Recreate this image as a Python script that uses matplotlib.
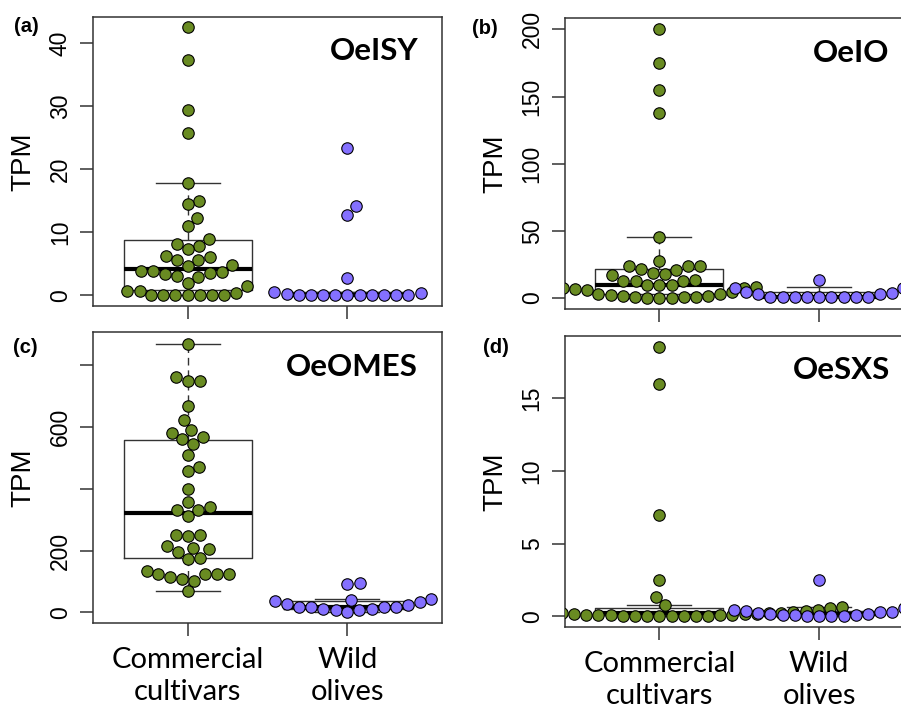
import numpy as np
import matplotlib
matplotlib.use("Agg")
import matplotlib.pyplot as plt

plt.rcParams["font.family"] = ["Liberation Sans", "DejaVu Sans"]

groups = ["Commercial\ncultivars", "Wild\nolives"]
genes = ["OeISY", "OeIO", "OeOMES", "OeSXS"]
tags = ["(a)", "(b)", "(c)", "(d)"]

# TPM values
isy_comm = [42.5, 37.3, 29.4, 25.8, 17.8, 15.0, 14.5, 12.3, 11.0, 9.0, 8.1, 7.8, 7.3,
            6.3, 6.1, 5.6, 5.6, 4.8, 4.6, 3.9, 3.8, 3.7, 3.6, 3.3, 3.0, 2.9, 2.0, 1.4,
            0.7, 0.7, 0.4, 0, 0, 0, 0, 0, 0, 0]
isy_wild = [23.3, 14.2, 12.8, 2.7, 0.5, 0.3, 0.2, 0, 0, 0, 0, 0, 0, 0, 0, 0, 0]

io_comm = [200, 175, 155, 138, 45.6, 27.5, 23.8, 23.8, 23.8, 22, 21, 19, 17.6, 17,
           13.4, 13, 13, 12.5, 10, 9.7, 9.5, 8, 7.5, 7.2, 6.7, 6, 4.2, 2.7, 2.7, 2,
           1.5, 1.2, 1, 0.8, 0.5, 0.3, 0.2, 0.1]
io_wild = [13.4, 8, 7.5, 7.5, 4.5, 4, 2.7, 2.7, 1, 1, 1, 1, 0.5, 0.5, 0.5, 0.5, 0.5]

omes_comm = [869, 761, 750, 750, 669, 623, 590, 580, 569, 561, 544, 509, 469, 458,
             398, 356, 342, 331, 331, 311, 252, 252, 247, 214, 210, 204, 196, 177,
             174, 134, 123, 123, 123, 123, 115, 109, 102, 69]
omes_wild = [95, 91, 44, 39, 37, 33, 26, 23, 17, 17, 17, 17, 12, 12, 9, 9, 1]

sxs_comm = [18.5, 16.0, 7.0, 2.5, 1.3, 0.75, 0.7, 0.65, 0.6, 0.55, 0.5, 0.45, 0.4,
            0.4, 0.35, 0.3, 0.3, 0.25, 0.25, 0.2, 0.2, 0.2, 0.15, 0.15, 0.15, 0.1,
            0.1, 0.1, 0.1, 0.1, 0.05, 0.05, 0.05, 0.05, 0, 0, 0, 0]
sxs_wild = [2.5, 0.64, 0.55, 0.45, 0.38, 0.3, 0.27, 0.2, 0.18, 0.15, 0.12, 0.1, 0.08,
            0.05, 0.03, 0.02, 0]

data = [(isy_comm, isy_wild), (io_comm, io_wild), (omes_comm, omes_wild), (sxs_comm, sxs_wild)]

yticks = [[0, 10, 20, 30, 40], [0, 50, 100, 150, 200], [0, 200, 400, 600, 800], [0, 5, 10, 15]]
ytick_labels = [["0", "10", "20", "30", "40"], ["0", "50", "100", "150", "200"],
                ["0", "200", "", "600", ""], ["0", "5", "10", "15"]]
ylims = [(-1.7, 44.2), (-8.3, 208.2), (-35, 906), (-0.76, 19.3)]

green = "#698B22"
purple = "#8470FF"
edge = "#333333"

positions = [[0.1036, 0.5684, 0.3867, 0.4080],
             [0.6271, 0.5638, 0.3867, 0.4104],
             [0.1036, 0.1209, 0.3867, 0.4104],
             [0.6271, 0.1152, 0.3867, 0.4113]]
tag_xy = [(0.0155, 0.962), (0.524, 0.960), (0.0144, 0.510), (0.536, 0.510)]

SPACE = 12.2  # swarm spacing in pixels


def swarm(ypix, d):
    # beeswarm "swarm" method, ascending priority
    out = np.zeros(len(ypix))
    placed = []
    for i in np.argsort(ypix, kind="stable"):
        yi = ypix[i]
        near = [p for p in placed if abs(yi - p[1]) < d]
        if near:
            near = sorted(near, key=lambda p: abs(p[0]))
            offs = [np.sqrt(d * d - (yi - p[1]) ** 2) for p in near]
            cands = [0.0] + [p[0] + o for p, o in zip(near, offs)] + [p[0] - o for p, o in zip(near, offs)]
            ok = [c for c in cands
                  if all((c - p[0]) ** 2 + (yi - p[1]) ** 2 >= 0.999 * d * d for p in near)]
            xi = min(ok, key=abs)
        else:
            xi = 0.0
        out[i] = xi
        placed.append((xi, yi))
    return out


fig = plt.figure(figsize=(9.01, 7.09), dpi=100)

for k in range(4):
    ax = fig.add_axes(positions[k])
    comm, wild = data[k]
    ax.set_xlim(0.41, 2.59)
    ax.set_ylim(*ylims[k])

    ax.boxplot([comm, wild], positions=[1, 2], widths=0.8, capwidths=0.4,
               showfliers=False, whis=1.5, patch_artist=False,
               boxprops=dict(color=edge, linewidth=1.0),
               whiskerprops=dict(color=edge, linewidth=1.0, linestyle=(0, (5.5, 3.5))),
               capprops=dict(color=edge, linewidth=1.0),
               medianprops=dict(color="black", linewidth=3.0))

    for pos, vals, col in [(1, comm, green), (2, wild, purple)]:
        vals = np.asarray(vals, dtype=float)
        pts = ax.transData.transform(np.column_stack([np.full(len(vals), pos), vals]))
        unit = ax.transData.transform((pos + 1, 0))[0] - ax.transData.transform((pos, 0))[0]
        offs = swarm(pts[:, 1], SPACE)
        ax.scatter(pos + offs / unit, vals, s=68, color=col, edgecolor="black",
                   linewidth=0.8, zorder=3)

    ax.set_xticks([1, 2])
    if k >= 2:
        ax.set_xticklabels(groups, fontsize=21, family="Lato", linespacing=1.25)
    else:
        ax.set_xticklabels(["", ""])
    ax.set_yticks(yticks[k])
    ax.set_yticklabels(ytick_labels[k], fontsize=16.5, rotation=90, va="center")
    ax.tick_params(axis="both", length=9.4, width=1.1, color=edge)
    ax.tick_params(axis="y", pad=6)
    ax.tick_params(axis="x", pad=8)
    for s in ax.spines.values():
        s.set_color(edge)
        s.set_linewidth(1.1)

    ax.set_ylabel("TPM", fontsize=20, va="center")
    ax.yaxis.set_label_coords(-0.2, 0.5)
    ax.text(0.932, 0.85, genes[k], transform=ax.transAxes, ha="right", va="baseline",
            fontsize=22.5, fontweight="bold", family="Lato")
    fig.text(tag_xy[k][0], tag_xy[k][1], tags[k], ha="left", va="center",
             fontsize=14.5, fontweight="bold")

fig.savefig("out.png", dpi=100)
